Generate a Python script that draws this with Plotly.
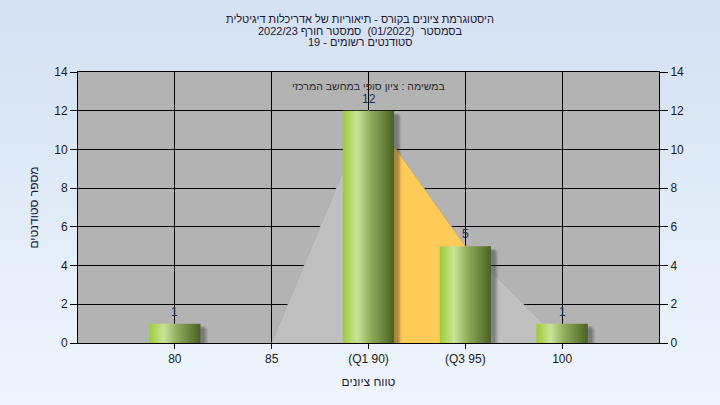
import base64
import plotly.graph_objects as go

# ---------------- data ----------------
categories = ["80", "85", "90", "95", "100"]
tick_labels = ["80", "85", "(Q1 90)", "(Q3 95)", "100"]
counts = [1, 0, 12, 5, 1]
curve_categories = ["85", "90", "95", "100"]
curve_values = [0, 12, 5, 0]
q1_category = "90"
q3_category = "95"
y_ticks = [0, 2, 4, 6, 8, 10, 12, 14]

RLE, PDF = "\u202B", "\u202C"
title_lines = [
    "היסטוגרמת ציונים בקורס - תיאוריות של אדריכלות דיגיטלית",
    "בסמסטר \u00A0(01/2022) \u00A0סמסטר חורף 2022/23",
    "סטודנטים רשומים - 19",
]
subtitle = "במשימה : ציון סופי במחשב המרכזי"
x_title = "טווח ציונים"
y_title = "מספר סטודנטים"


def rtl(s):
    return RLE + s + PDF


FONT = "Liberation Sans, Arial, DejaVu Sans, sans-serif"
W, H = 720, 405
ML, MR, MT, MB = 78, 61, 72, 62
PW, PH = W - ML - MR, H - MT - MB

pos = {c: i for i, c in enumerate(categories)}
bar_w = 0.53

fig = go.Figure()

# distribution area (light gray)
fig.add_trace(go.Scatter(
    x=[pos[c] for c in curve_categories], y=curve_values,
    fill="toself", fillcolor="#C0C0C0", mode="lines",
    line=dict(color="#A9A9A9", width=0.6), hoverinfo="skip", showlegend=False))

# interquartile area (orange)
i1, i3 = pos[q1_category], pos[q3_category]
qx = [i1] + [pos[c] for c in curve_categories if i1 <= pos[c] <= i3] + [i3]
qy = [0] + [v for c, v in zip(curve_categories, curve_values) if i1 <= pos[c] <= i3] + [0]
fig.add_trace(go.Scatter(
    x=qx, y=qy, fill="toself", fillcolor="#FFCB58", mode="lines",
    line=dict(color="#D9A640", width=0.6), hoverinfo="skip", showlegend=False))

# bar shadows (soft, offset right/down)
for c, v in zip(categories, counts):
    if v <= 0:
        continue
    i = pos[c]
    for dx, dy, alpha in [(0.075, 0.26, 0.10), (0.06, 0.20, 0.14), (0.045, 0.14, 0.18)]:
        x0, x1 = i - bar_w / 2 + dx, i + bar_w / 2 + dx
        fig.add_trace(go.Scatter(
            x=[x0, x1, x1, x0, x0], y=[-1, -1, v - dy, v - dy, -1],
            fill="toself", fillcolor=f"rgba(30,30,30,{alpha})", mode="lines",
            line=dict(width=0), hoverinfo="skip", showlegend=False))

# bars with horizontal gradient
bar_scale = [[0.0, "#9CCB38"], [0.28, "#CAE497"], [0.55, "#8FAA5C"], [1.0, "#4A6221"]]
for c, v in zip(categories, counts):
    if v <= 0:
        continue
    i = pos[c]
    x0, x1 = i - bar_w / 2, i + bar_w / 2
    fig.add_trace(go.Scatter(
        x=[x0, x1, x1, x0, x0], y=[0, 0, v, v, 0],
        fill="toself", mode="lines", line=dict(width=0),
        fillgradient=dict(type="horizontal", colorscale=bar_scale),
        hoverinfo="skip", showlegend=False))

# invisible trace for the right axis
fig.add_trace(go.Scatter(x=[0], y=[0], yaxis="y2", mode="markers",
                         marker=dict(opacity=0), hoverinfo="skip", showlegend=False))

svg = ('<svg xmlns="http://www.w3.org/2000/svg" width="720" height="405" preserveAspectRatio="none">'
       '<defs><linearGradient id="g" x1="0" y1="0" x2="0" y2="1">'
       '<stop offset="0" stop-color="#D4E1F3"/><stop offset="1" stop-color="#EEF5FD"/>'
       '</linearGradient></defs><rect width="720" height="405" fill="url(#g)"/></svg>')
bg_src = "data:image/svg+xml;base64," + base64.b64encode(svg.encode()).decode()

annotations = []
for line, shift in zip(title_lines, [53, 41.5, 30]):
    annotations.append(dict(
        text=rtl(line), xref="paper", yref="paper", x=(W / 2 - ML) / PW, y=1,
        xanchor="center", yanchor="middle", yshift=shift, showarrow=False,
        font=dict(family=FONT, size=11, color="#22162F")))
annotations.append(dict(
    text=rtl(subtitle), xref="paper", yref="paper", x=0.5, y=1,
    xanchor="center", yanchor="middle", yshift=-14, showarrow=False,
    font=dict(family=FONT, size=10.5, color="#2A2A2A")))

# value labels above bars
for c, v in zip(categories, counts):
    if v <= 0:
        continue
    annotations.append(dict(
        text=str(v), xref="x", yref="y", x=pos[c], y=v,
        xanchor="center", yanchor="bottom", yshift=3, showarrow=False,
        font=dict(family=FONT, size=12, color="#1E2B55")))

axis_font = dict(family=FONT, size=12, color="#1A1A1A")
title_font = dict(family=FONT, size=12, color="#221A33")

fig.update_layout(
    width=W, height=H,
    margin=dict(l=ML, r=MR, t=MT, b=MB, pad=0),
    paper_bgcolor="#E3ECF8",
    plot_bgcolor="rgba(0,0,0,0)",
    images=[dict(source=bg_src, xref="paper", yref="paper",
                 x=-ML / PW, y=1 + MT / PH, sizex=W / PW, sizey=H / PH,
                 sizing="stretch", layer="below", xanchor="left", yanchor="top")],
    shapes=[dict(type="rect", xref="x domain", yref="y domain", x0=0, x1=1, y0=0, y1=1,
                 fillcolor="#B3B3B3", line=dict(width=0), layer="below")],
    annotations=annotations,
    xaxis=dict(range=[-1, 5], tickvals=list(range(len(categories))), ticktext=tick_labels,
               showgrid=True, gridcolor="black", gridwidth=1,
               showline=True, linecolor="black", linewidth=1, mirror=True,
               ticks="outside", ticklen=5, tickcolor="black", zeroline=False,
               tickfont=axis_font, automargin=False,
               title=dict(text=rtl(x_title), font=title_font, standoff=12)),
    yaxis=dict(range=[0, 14], tickvals=y_ticks,
               showgrid=True, gridcolor="black", gridwidth=1,
               showline=True, linecolor="black", linewidth=1, mirror=True,
               ticks="outside", ticklen=7, tickcolor="black", zeroline=False,
               tickfont=axis_font, automargin=False,
               title=dict(text=rtl(y_title), font=title_font, standoff=13)),
    yaxis2=dict(range=[0, 14], tickvals=y_ticks, overlaying="y", side="right",
                showgrid=False, showline=False, zeroline=False, automargin=False,
                ticks="outside", ticklen=8, tickcolor="black", tickfont=axis_font),
)

fig.write_html("out.html", config={"displayModeBar": False},
               post_script="document.body.style.margin='0';")
